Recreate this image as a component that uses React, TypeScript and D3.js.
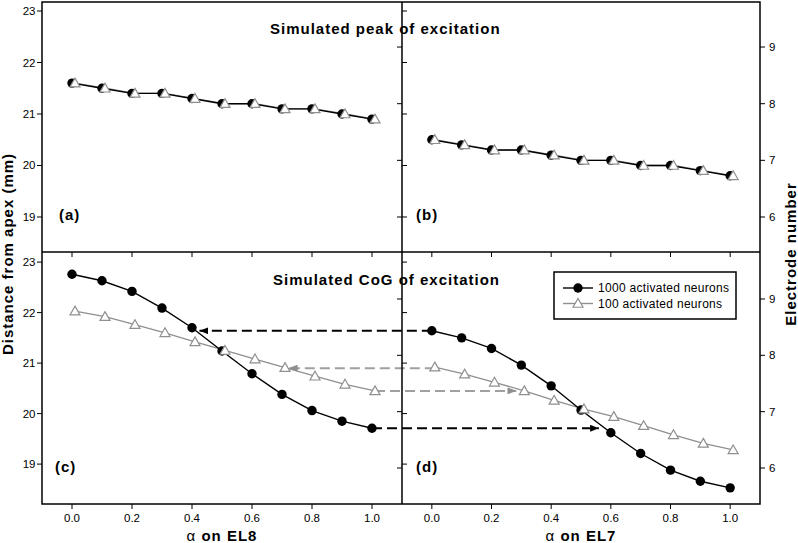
import React from "react";
import * as d3 from "d3";

// alpha values (current steering coefficient)
const alpha = [0, 0.1, 0.2, 0.3, 0.4, 0.5, 0.6, 0.7, 0.8, 0.9, 1.0];

// simulated peak of excitation (mm from apex)
const peakEL8_1000 = [21.6, 21.5, 21.4, 21.4, 21.3, 21.2, 21.2, 21.1, 21.1, 21.0, 20.9];
const peakEL8_100 = [21.6, 21.5, 21.4, 21.4, 21.3, 21.2, 21.2, 21.1, 21.1, 21.0, 20.9];
const peakEL7_1000 = [20.5, 20.4, 20.3, 20.3, 20.2, 20.1, 20.1, 20.0, 20.0, 19.9, 19.8];
const peakEL7_100 = [20.5, 20.4, 20.3, 20.3, 20.2, 20.1, 20.1, 20.0, 20.0, 19.9, 19.8];

// simulated CoG of excitation (mm from apex)
const cogEL8_1000 = [22.76, 22.63, 22.42, 22.09, 21.7, 21.24, 20.79, 20.38, 20.06, 19.85, 19.71];
const cogEL8_100 = [22.03, 21.92, 21.76, 21.6, 21.42, 21.25, 21.08, 20.91, 20.74, 20.58, 20.45];
const cogEL7_1000 = [21.64, 21.5, 21.29, 20.96, 20.55, 20.07, 19.62, 19.21, 18.88, 18.66, 18.53];
const cogEL7_100 = [20.92, 20.78, 20.62, 20.45, 20.26, 20.09, 19.94, 19.76, 19.58, 19.41, 19.28];

const xTicks = [0, 0.2, 0.4, 0.6, 0.8, 1.0];
const mmTicks = [19, 20, 21, 22, 23];
const electrodeTicks = [6, 7, 8, 9];
const legendLabels = ["1000 activated neurons", "100 activated neurons"];
const panelLabels = ["(a)", "(b)", "(c)", "(d)"];
const rowTitles = ["Simulated peak of excitation", "Simulated CoG of excitation"];
const xTitles = ["EL8", "EL7"];

// dashed arrows in the CoG row: level (mm), start/end column and alpha
const arrowLevels = [21.64, 20.9, 20.45, 19.71];
const arrowFrom = [
  [1, 0.0],
  [1, 0.01],
  [0, 1.01],
  [0, 1.0],
];
const arrowTo = [
  [0, 0.425],
  [0, 0.723],
  [1, 0.283],
  [1, 0.56],
];
const arrowGray = [false, true, true, false];

const BLACK = "#000";
const GRAY = "#8f8f8f";
const FONT = "'Liberation Sans', Arial, sans-serif";

const colX = [
  d3.scaleLinear().domain([-0.1, 1.1]).range([42, 402]),
  d3.scaleLinear().domain([-0.1, 1.1]).range([402, 760]),
];
const rowMm = [
  d3.scaleLinear().domain([18.32, 23.175]).range([252, 2]),
  d3.scaleLinear().domain([18.21, 23.2]).range([504, 252]),
];
const rowEl = [
  d3.scaleLinear().domain([5.382, 9.795]).range([252, 2]),
  d3.scaleLinear().domain([5.361, 9.834]).range([504, 252]),
];

const panels = [
  { col: 0, row: 0, s1000: peakEL8_1000, s100: peakEL8_100, lab: [59, 220] },
  { col: 1, row: 0, s1000: peakEL7_1000, s100: peakEL7_100, lab: [416, 220] },
  { col: 0, row: 1, s1000: cogEL8_1000, s100: cogEL8_100, lab: [55, 472] },
  { col: 1, row: 1, s1000: cogEL7_1000, s100: cogEL7_100, lab: [416, 472] },
];

const triPath = (cx: number, cy: number) => {
  const s = 5;
  return `M${cx},${cy - s}L${cx + s},${cy + s * 0.75}L${cx - s},${cy + s * 0.75}Z`;
};

export default function App() {
  return (
    <svg
      width={798}
      height={543}
      style={{ position: "absolute", left: 0, top: 0, background: "#fff" }}
      fontFamily={FONT}
    >
      <defs>
        <marker id="ahBlack" viewBox="0 0 10 8" refX="10" refY="4" markerWidth="9" markerHeight="7" markerUnits="userSpaceOnUse" orient="auto">
          <path d="M0,0L10,4L0,8Z" fill={BLACK} />
        </marker>
        <marker id="ahGray" viewBox="0 0 10 8" refX="10" refY="4" markerWidth="9" markerHeight="7" markerUnits="userSpaceOnUse" orient="auto">
          <path d="M0,0L10,4L0,8Z" fill={GRAY} />
        </marker>
      </defs>

      {/* data lines */}
      {panels.map((p, i) => {
        const x = colX[p.col];
        const y = rowMm[p.row];
        const l1000 = d3.line<number>().x((_, k) => x(alpha[k])).y((d) => y(d));
        const l100 = d3.line<number>().x((_, k) => x(alpha[k] + 0.01)).y((d) => y(d));
        return (
          <g key={"l" + i}>
            <path d={l100(p.s100) || ""} fill="none" stroke={GRAY} strokeWidth={1.3} />
            <path d={l1000(p.s1000) || ""} fill="none" stroke={BLACK} strokeWidth={1.4} />
          </g>
        );
      })}

      {/* arrows */}
      {arrowLevels.map((lv, i) => {
        const yv = rowMm[1](lv);
        const x1 = colX[arrowFrom[i][0]](arrowFrom[i][1]);
        const x2 = colX[arrowTo[i][0]](arrowTo[i][1]);
        return (
          <line
            key={"a" + i}
            x1={x1}
            x2={x2}
            y1={yv}
            y2={yv}
            stroke={arrowGray[i] ? "#a0a0a0" : BLACK}
            strokeWidth={2}
            strokeDasharray="10,5"
            markerEnd={arrowGray[i] ? "url(#ahGray)" : "url(#ahBlack)"}
          />
        );
      })}

      {/* markers */}
      {panels.map((p, i) => {
        const x = colX[p.col];
        const y = rowMm[p.row];
        return (
          <g key={"m" + i}>
            {p.s1000.map((d, k) => (
              <circle key={"c" + k} cx={x(alpha[k])} cy={y(d)} r={4.7} fill={BLACK} />
            ))}
            {p.s100.map((d, k) => (
              <path key={"t" + k} d={triPath(x(alpha[k] + 0.01), y(d))} fill="#fff" stroke={GRAY} strokeWidth={1.2} />
            ))}
          </g>
        );
      })}

      {/* frame */}
      <rect x={42} y={2} width={718} height={502} fill="none" stroke={BLACK} strokeWidth={1.5} />
      <line x1={402} x2={402} y1={2} y2={504} stroke={BLACK} strokeWidth={1.5} />
      <line x1={42} x2={760} y1={252} y2={252} stroke={BLACK} strokeWidth={1.5} />

      {/* y ticks */}
      {[0, 1].map((r) => (
        <g key={"yt" + r} fontSize={11.5}>
          {mmTicks.map((t) => {
            const yy = rowMm[r](t);
            return (
              <g key={t}>
                <line x1={37} x2={42} y1={yy} y2={yy} stroke={BLACK} strokeWidth={1} />
                <line x1={402} x2={407} y1={yy} y2={yy} stroke={BLACK} strokeWidth={1} />
                <text x={35.5} y={yy + 4} textAnchor="end">{t}</text>
              </g>
            );
          })}
          {electrodeTicks.map((t) => {
            const yy = rowEl[r](t);
            return (
              <g key={"e" + t}>
                <line x1={397} x2={402} y1={yy} y2={yy} stroke={BLACK} strokeWidth={1} />
                <line x1={760} x2={765} y1={yy} y2={yy} stroke={BLACK} strokeWidth={1} />
                <text x={769} y={yy + 4}>{t}</text>
              </g>
            );
          })}
        </g>
      ))}

      {/* x ticks */}
      {[0, 1].map((c) => (
        <g key={"xt" + c} fontSize={11.5}>
          {xTicks.map((t) => {
            const xx = colX[c](t);
            return (
              <g key={t}>
                <line x1={xx} x2={xx} y1={252} y2={257} stroke={BLACK} strokeWidth={1} />
                <line x1={xx} x2={xx} y1={504} y2={509} stroke={BLACK} strokeWidth={1} />
                <text x={xx} y={522} textAnchor="middle">{t.toFixed(1)}</text>
              </g>
            );
          })}
          <text x={(colX[c].range()[0] + colX[c].range()[1]) / 2} y={541} textAnchor="middle" fontSize={15} fontWeight="bold" letterSpacing={1}>
            <tspan fontWeight="normal">α</tspan> on {xTitles[c]}
          </text>
        </g>
      ))}

      {/* titles and panel labels */}
      <text x={270} y={34} fontSize={15} fontWeight="bold" letterSpacing={1}>{rowTitles[0]}</text>
      <text x={273} y={285} fontSize={15} fontWeight="bold" letterSpacing={1}>{rowTitles[1]}</text>
      {panels.map((p, i) => (
        <text key={"pl" + i} x={p.lab[0]} y={p.lab[1]} fontSize={15} fontWeight="bold" letterSpacing={1}>
          {panelLabels[i]}
        </text>
      ))}

      {/* axis titles */}
      <text transform="translate(13,254) rotate(-90)" textAnchor="middle" fontSize={15} fontWeight="bold" letterSpacing={1}>
        Distance from apex (mm)
      </text>
      <text transform="translate(796,254) rotate(-90)" textAnchor="middle" fontSize={15} fontWeight="bold" letterSpacing={1}>
        Electrode number
      </text>

      {/* legend */}
      <rect x={554} y={272} width={182} height={47} fill="#fff" stroke={BLACK} strokeWidth={1.5} />
      {legendLabels.map((lab, i) => {
        const yy = 288 + i * 15.5;
        const gray = i === 1;
        return (
          <g key={"lg" + i}>
            <line x1={563} x2={593} y1={yy} y2={yy} stroke={gray ? GRAY : BLACK} strokeWidth={1.4} />
            {gray ? (
              <path d={triPath(578, yy)} fill="#fff" stroke={GRAY} strokeWidth={1.2} />
            ) : (
              <circle cx={578} cy={yy} r={4.7} fill={BLACK} />
            )}
            <text x={598} y={yy + 4} fontSize={12} letterSpacing={0.3}>{lab}</text>
          </g>
        );
      })}
    </svg>
  );
}
